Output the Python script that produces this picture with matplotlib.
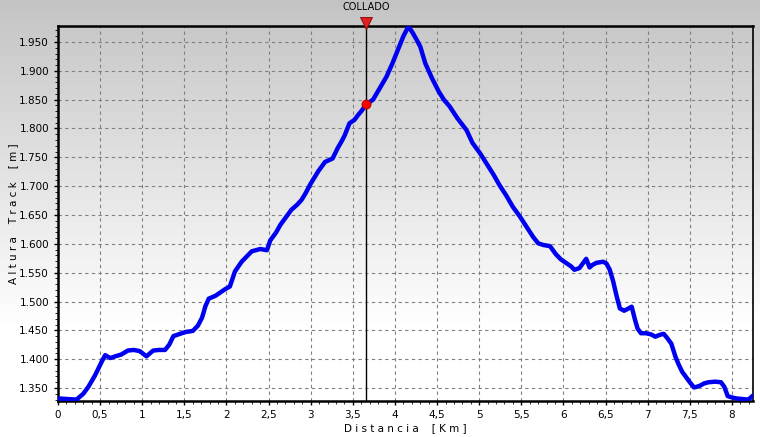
import matplotlib
matplotlib.use('Agg')
import matplotlib.pyplot as plt
import numpy as np
from matplotlib.ticker import FuncFormatter, MultipleLocator

# perfil: distancia [km], altura [m]
dist = [0.00, 0.10, 0.22, 0.30, 0.36, 0.44, 0.52, 0.56, 0.62, 0.68, 0.75, 0.83, 0.90, 0.97,
        1.05, 1.13, 1.20, 1.27, 1.32, 1.37, 1.45, 1.51, 1.60, 1.66, 1.71, 1.75, 1.79, 1.87,
        1.98, 2.04, 2.10, 2.18, 2.22, 2.30, 2.40, 2.48, 2.52, 2.59, 2.64, 2.70, 2.77, 2.84,
        2.89, 2.94, 2.99, 3.04, 3.09, 3.17, 3.26, 3.32, 3.36, 3.40, 3.46, 3.52, 3.56, 3.60,
        3.66, 3.74, 3.82, 3.90, 3.97, 4.05, 4.10, 4.16, 4.21, 4.26, 4.30, 4.36, 4.44, 4.52,
        4.58, 4.65, 4.74, 4.85, 4.92, 5.01, 5.11, 5.17, 5.24, 5.32, 5.40, 5.48, 5.56, 5.64,
        5.70, 5.76, 5.84, 5.91, 5.97, 6.04, 6.09, 6.13, 6.19, 6.23, 6.27, 6.31, 6.34, 6.39,
        6.47, 6.51, 6.55, 6.59, 6.63, 6.67, 6.72, 6.76, 6.81, 6.85, 6.88, 6.92, 6.98, 7.04,
        7.09, 7.14, 7.19, 7.23, 7.28, 7.33, 7.37, 7.41, 7.45, 7.50, 7.55, 7.58, 7.62, 7.67,
        7.72, 7.80, 7.87, 7.91, 7.95, 7.99, 8.05, 8.12, 8.19, 8.22, 8.25]
alt = [1332, 1331, 1330, 1340, 1352, 1372, 1396, 1407, 1402, 1405, 1408, 1415, 1416, 1414,
       1405, 1415, 1416, 1416, 1425, 1440, 1444, 1447, 1449, 1458, 1472, 1492, 1505, 1510,
       1521, 1526, 1552, 1569, 1575, 1587, 1591, 1589, 1606, 1620, 1633, 1645, 1659, 1668,
       1676, 1688, 1702, 1714, 1726, 1742, 1748, 1766, 1776, 1787, 1809, 1815, 1823, 1830,
       1842, 1850, 1870, 1890, 1913, 1942, 1960, 1977, 1966, 1953, 1942, 1913, 1887, 1864,
       1850, 1838, 1818, 1797, 1775, 1757, 1734, 1720, 1702, 1684, 1664, 1648, 1630, 1612,
       1601, 1598, 1596, 1582, 1573, 1566, 1561, 1555, 1558, 1566, 1574, 1559, 1563, 1567,
       1569, 1566, 1555, 1535, 1510, 1488, 1484, 1487, 1491, 1468, 1453, 1445, 1445, 1443,
       1439, 1442, 1444, 1437, 1427, 1404, 1390, 1378, 1370, 1360, 1351, 1352, 1354, 1358,
       1360, 1361, 1360, 1352, 1336, 1334, 1332, 1331, 1330, 1333, 1337]

marker_km = 3.656
marker_alt = 1842
marker_name = 'COLLADO'

fig = plt.figure(figsize=(7.6, 4.37), dpi=100)

# fondo degradado gris -> blanco
bg = fig.add_axes([0, 0, 1, 1], zorder=-10)
rows = np.linspace(0, 1, 437)
shade = np.clip(0.765 + rows / 0.76 * (1 - 0.765), 0, 1)
grad = np.tile(shade[:, None], (1, 10))
bg.imshow(grad, cmap='gray', vmin=0, vmax=1, aspect='auto', extent=[0, 1, 0, 1], origin='upper')
bg.axis('off')

ax = fig.add_axes([58 / 760, 36 / 437, 695 / 760, 375 / 437])
ax.set_facecolor('none')

ax.plot(dist, alt, color='#0000f0', lw=3.2, solid_joinstyle='round', solid_capstyle='round', zorder=3)

ax.axvline(marker_km, color='black', lw=1.0, zorder=4)
ax.plot([marker_km], [marker_alt], 'o', color='#ff0000', mec='#a00000', mew=0.6, ms=6.5, zorder=5)
ax.plot([marker_km], [1977.7 + 5], marker='v', color='#e02020', mec='#800000', mew=0.6, ms=8,
        clip_on=False, zorder=6)
ax.text(marker_km, 1977.7 + 33, marker_name, ha='center', va='center', fontsize=7)

ax.set_xlim(0, 8.25)
ax.set_ylim(1327.5, 1977.7)
ax.xaxis.set_major_locator(MultipleLocator(0.5))
ax.xaxis.set_minor_locator(MultipleLocator(0.1))
ax.yaxis.set_major_locator(MultipleLocator(50))
ax.yaxis.set_minor_locator(MultipleLocator(10))

ax.xaxis.set_major_formatter(FuncFormatter(lambda v, p: ('%g' % v).replace('.', ',')))
ax.yaxis.set_major_formatter(FuncFormatter(lambda v, p: '{:,.0f}'.format(v).replace(',', '.')))

ax.grid(True, which='major', color='#808080', linestyle=(0, (3, 3)), lw=0.8)
ax.tick_params(which='major', direction='out', length=3, width=1, labelsize=7.5, colors='black')
ax.tick_params(which='minor', direction='out', length=2, width=0.6)

for s in ['left', 'bottom', 'top']:
    ax.spines[s].set_linewidth(1.8)
ax.spines['right'].set_linewidth(1.2)

ax.set_xlabel('D i s t a n c i a    [ K m ]', fontsize=7.5, labelpad=2)
ax.set_ylabel('A l t u r a    T r a c k    [ m ]', fontsize=7.5, labelpad=1)

plt.savefig('out.png', dpi=100)
